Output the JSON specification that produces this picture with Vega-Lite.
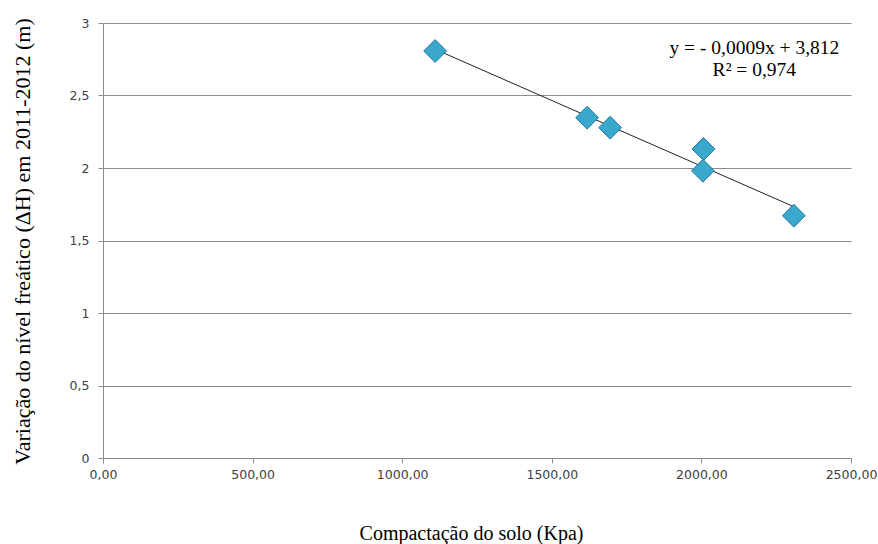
{
  "$schema": "https://vega.github.io/schema/vega-lite/v6.json",
  "autosize": "none",
  "width": 748,
  "height": 435,
  "padding": {"left": 103, "top": 23, "right": 27, "bottom": 86},
  "background": "white",
  "config": {
    "view": {"stroke": null},
    "font": "'Liberation Serif', serif"
  },
  "datasets": {
    "pts": [
      {"x": 1110, "y": 2.807},
      {"x": 1618, "y": 2.347},
      {"x": 1695, "y": 2.278},
      {"x": 2007, "y": 2.131},
      {"x": 2005, "y": 1.981},
      {"x": 2309, "y": 1.671}
    ],
    "eq": [
      {"x": 2177, "y": 2.828, "label": "y = - 0,0009x + 3,812"},
      {"x": 2177, "y": 2.676, "label": "R² = 0,974"}
    ]
  },
  "layer": [
    {
      "data": {"name": "pts"},
      "transform": [{"regression": "y", "on": "x"}],
      "mark": {"type": "line", "color": "#222222", "strokeWidth": 1},
      "encoding": {
        "x": {
          "field": "x", "type": "quantitative",
          "scale": {"domain": [0, 2500], "nice": false},
          "axis": {
            "values": [0, 500, 1000, 1500, 2000, 2500],
            "labelExpr": "replace(format(datum.value, '.2f'), '.', ',')",
            "labelFlush": false,
            "labelOverlap": false,
            "grid": false,
            "domainColor": "#8c8c8c",
            "tickColor": "#8c8c8c",
            "tickSize": 5,
            "labelPadding": 5,
            "labelFontSize": 12.5,
            "labelColor": "#404040",
            "labelFont": "DejaVu Sans",
            "title": "Compactação do solo (Kpa)",
            "titleFont": "'Liberation Serif', serif",
            "titleFontSize": 20,
            "titleFontWeight": "normal",
            "titleColor": "#000000",
            "titleX": 368,
            "titleY": 75,
            "titleBaseline": "middle",
            "titleAnchor": null
          }
        },
        "y": {
          "field": "y", "type": "quantitative",
          "scale": {"domain": [0, 3], "nice": false},
          "axis": {
            "values": [0, 0.5, 1, 1.5, 2, 2.5, 3],
            "labelExpr": "replace(format(datum.value, '~g'), '.', ',')",
            "labelFlush": false,
            "labelOverlap": false,
            "grid": true,
            "gridColor": "#8c8c8c",
            "gridOpacity": 1,
            "domainColor": "#8c8c8c",
            "tickColor": "#8c8c8c",
            "tickSize": 5,
            "labelPadding": 9,
            "labelFontSize": 12.5,
            "labelColor": "#404040",
            "labelFont": "DejaVu Sans",
            "title": "Variação do nível freático (ΔH) em 2011-2012 (m)",
            "titleFont": "'Liberation Serif', serif",
            "titleFontSize": 22,
            "titleFontWeight": "normal",
            "titleColor": "#000000",
            "titleX": -81,
            "titleY": 218,
            "titleAngle": -90,
            "titleBaseline": "middle",
            "titleAlign": "center",
            "titleAnchor": null
          }
        }
      }
    },
    {
      "data": {"name": "pts"},
      "mark": {"type": "point", "shape": "diamond", "filled": true, "size": 520, "color": "#3aa7cd", "stroke": "#23799a", "strokeWidth": 1, "opacity": 1},
      "encoding": {
        "x": {"field": "x", "type": "quantitative"},
        "y": {"field": "y", "type": "quantitative"}
      }
    },
    {
      "data": {"name": "eq"},
      "mark": {"type": "text", "font": "'Liberation Serif', serif", "fontSize": 19.5, "align": "center", "baseline": "middle", "color": "#000000"},
      "encoding": {
        "x": {"field": "x", "type": "quantitative"},
        "y": {"field": "y", "type": "quantitative"},
        "text": {"field": "label"}
      }
    }
  ]
}
